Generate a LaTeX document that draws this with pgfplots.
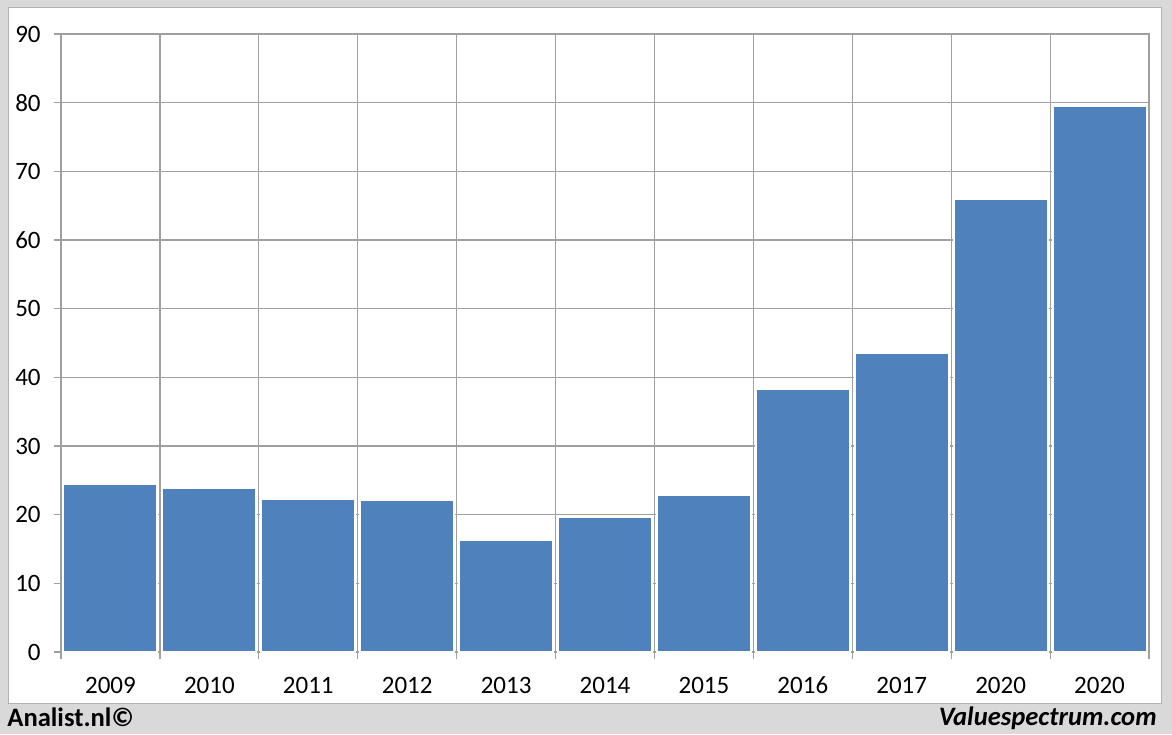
\documentclass[border=0pt]{standalone}
\usepackage{pgfplots}
\pgfplotsset{compat=1.18}
\usepackage{fontspec}
\setmainfont{Carlito}
\definecolor{barblue}{HTML}{4F81BD}
\definecolor{gridgray}{HTML}{A0A0A0}
\definecolor{framegray}{HTML}{D9D9D9}
\begin{document}
\begin{tikzpicture}
\useasboundingbox (0,0) rectangle (586pt,367pt);
\fill[framegray] (0,0) rectangle (586pt,367pt);
\draw[fill=white, draw=gray!60, line width=0.5pt] (4pt,15.5pt) rectangle (580.5pt,363pt);
\begin{axis}[
  at={(30.5pt,41pt)}, anchor=south west,
  scale only axis, width=544pt, height=309pt,
  xmin=0.5, xmax=11.5, ymin=0, ymax=90,
  ytick={0,10,...,90},
  xtick={0.5,1.5,...,11.5}, xticklabels={},
  major tick length=3.5pt,
  extra x ticks={1,2,3,4,5,6,7,8,9,10,11},
  extra x tick labels={2009,2010,2011,2012,2013,2014,2015,2016,2017,2020,2020},
  extra x tick style={major tick length=0pt, grid=none},
  grid=major, grid style={gridgray, line width=0.6pt},
  axis line style={gridgray, line width=0.6pt},
  tick style={gridgray, line width=0.6pt},
  tick align=outside, tick pos=left,
  /pgf/number format/assume math mode=true,
  ticklabel style={font=\fontsize{12.5}{14}\selectfont, text=black},
  yticklabel style={anchor=east, inner sep=0pt, xshift=-6.5pt},
  xticklabel style={anchor=base, inner sep=0pt, yshift=-20.5pt},
]
\addplot[ybar, bar width=47pt, fill=barblue, draw=white, line width=1pt]
  coordinates {(1,24.5) (2,23.9) (3,22.3) (4,22.1) (5,16.3) (6,19.7) (7,22.9) (8,38.3) (9,43.5) (10,66.0) (11,79.5)};
\end{axis}
\node[anchor=base west, inner sep=0pt] at (3.5pt,4pt) {\fontsize{13.3}{15}\selectfont\bfseries Analist.nl©};
\node[anchor=base east, inner sep=0pt] at (578.5pt,4.5pt) {\fontsize{13.3}{15}\selectfont\bfseries\itshape Valuespectrum.com};
\end{tikzpicture}
\end{document}
